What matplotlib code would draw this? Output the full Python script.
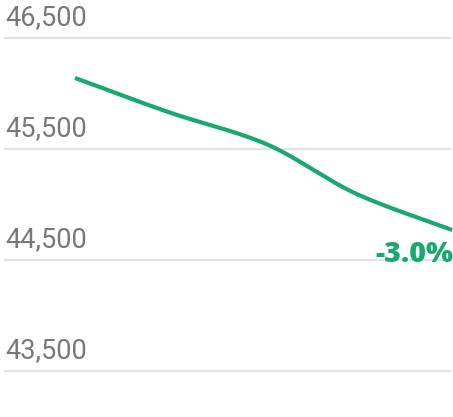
import matplotlib
matplotlib.use("Agg")
import matplotlib.pyplot as plt
import numpy as np

# values
points = [0, 1, 2, 3, 4]
values = [46140, 45830, 45555, 45090, 44770]
grid_values = [46500, 45500, 44500, 43500]
grid_labels = ["46,500", "45,500", "44,500", "43,500"]

green = "#18a96c"


def pchip(x, y, n=200):
    # monotone cubic, just for drawing a smooth line through the points
    x = np.asarray(x, float)
    y = np.asarray(y, float)
    h = np.diff(x)
    d = np.diff(y) / h
    m = np.zeros_like(y)
    for i in range(1, len(y) - 1):
        if d[i - 1] * d[i] > 0:
            w1 = 2 * h[i] + h[i - 1]
            w2 = h[i] + 2 * h[i - 1]
            m[i] = (w1 + w2) / (w1 / d[i - 1] + w2 / d[i])
    m[0] = d[0]
    m[-1] = d[-1]
    xs = np.linspace(x[0], x[-1], n)
    ys = np.empty_like(xs)
    for j, xv in enumerate(xs):
        i = min(np.searchsorted(x, xv, side="right") - 1, len(x) - 2)
        t = (xv - x[i]) / h[i]
        h00 = 2 * t**3 - 3 * t**2 + 1
        h10 = t**3 - 2 * t**2 + t
        h01 = -2 * t**3 + 3 * t**2
        h11 = t**3 - t**2
        ys[j] = h00 * y[i] + h10 * h[i] * m[i] + h01 * y[i + 1] + h11 * h[i] * m[i + 1]
    return xs, ys


fig = plt.figure(figsize=(4.53, 4.17), dpi=100)
ax = fig.add_axes([0, 0, 1, 1])
ax.set_xlim(-0.796, 4.01)
ax.set_ylim(43086, 46842)
ax.axis("off")

for gv, gl in zip(grid_values, grid_labels):
    ax.axhline(gv, xmin=5 / 453, xmax=450 / 453, color="#e3e3e3", lw=1.6, zorder=1)
    ax.annotate(gl, xy=(5 / 453, gv), xycoords=("axes fraction", "data"),
                xytext=(0, 5), textcoords="offset points",
                ha="left", va="bottom", fontsize=19.5, color="#787878",
                family="Roboto")

xs, ys = pchip(points, values)
ax.plot(xs, ys, color=green, lw=3.0, solid_capstyle="butt", zorder=3)

change = (values[-1] - values[0]) / values[0] * 100
ax.annotate("%.1f%%" % change, xy=(1.0, values[-1]), xycoords=("axes fraction", "data"),
            xytext=(0, -23), textcoords="offset points",
            ha="right", va="baseline", fontsize=20.5, fontweight="heavy",
            color=green, family="Open Sans", zorder=4)

plt.savefig("out.png", dpi=100)
plt.close()
